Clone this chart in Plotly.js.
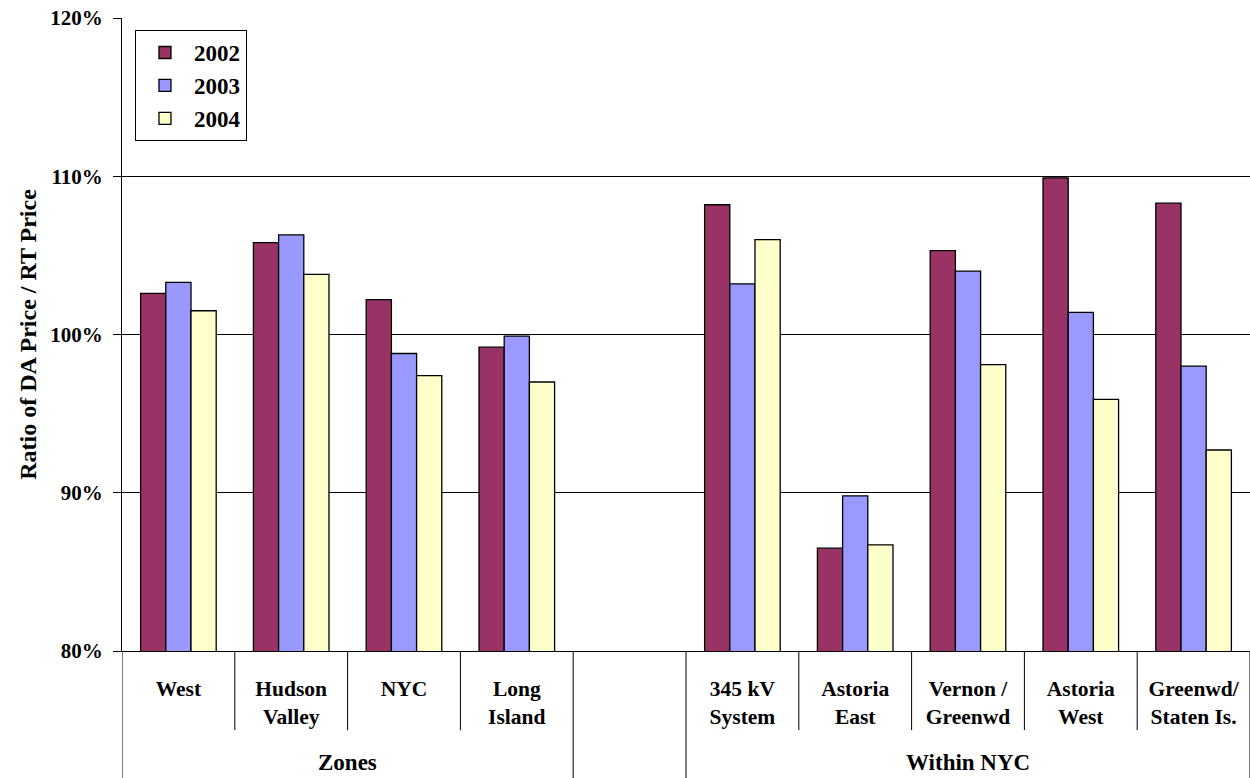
<!DOCTYPE html>
<html>
<head>
<meta charset="utf-8">
<script src="https://cdn.plot.ly/plotly-3.0.1.min.js"></script>
<style>html,body{margin:0;padding:0;background:#fff;overflow:hidden;}</style>
</head>
<body>
<div id="chart" style="width:1250px;height:778px;"></div>
<script>
// Categories (the blank slot separates the two groups)
const categories = ["West", "Hudson<br>Valley", "NYC", "Long<br>Island", " ",
  "345 kV<br>System", "Astoria<br>East", "Vernon /<br>Greenwd", "Astoria<br>West", "Greenwd/<br>Staten Is."];
const groupNames = ["Zones", "Within NYC"];
const groupSpans = [[0, 3], [5, 9]];   // category index ranges of each group

// Ratio of DA price / RT price (%)
const y2002 = [102.6, 105.8, 102.2, 99.2, null, 108.2, 86.5, 105.3, 109.9, 108.3];
const y2003 = [103.3, 106.3, 98.8, 99.9, null, 103.2, 89.8, 104.0, 101.4, 98.0];
const y2004 = [101.5, 103.8, 97.4, 97.0, null, 106.0, 86.7, 98.1, 95.9, 92.7];
const seriesNames = ["2002", "2003", "2004"];
const colors = ["#993366", "#9999FF", "#FFFFCC"];

const FAM = "Liberation Serif";
function f(size) { return {family: FAM, size: size, color: "#000", weight: "bold"}; }
const seriesVals = [y2002, y2003, y2004];

const traces = seriesVals.map((v, i) => ({
  type: "bar",
  name: seriesNames[i],
  x: categories,
  y: v,
  marker: {color: colors[i], line: {color: "#000", width: 1.3}}
}));

// separator lines under the axis: short between categories, long at group edges
const shapes = [];
const groupEdges = new Set([0, 4, 5, categories.length]);
for (let i = 0; i <= categories.length; i++) {
  const long = groupEdges.has(i);
  shapes.push({
    type: "line", xref: "x", yref: "paper",
    x0: i - 0.5, x1: i - 0.5, y0: 0, y1: long ? -0.205 : -0.125,
    line: {color: "#000", width: 1}
  });
}
const annotations = groupSpans.map((s, k) => ({
  xref: "x", yref: "paper", x: (s[0] + s[1]) / 2, y: -0.176,
  text: groupNames[k], showarrow: false, yanchor: "middle",
  font: f(23)
}));

const layout = {
  width: 1250, height: 778,
  margin: {l: 122, r: 0, t: 18, b: 127},
  paper_bgcolor: "#fff", plot_bgcolor: "#fff",
  font: f(20),
  barmode: "group", bargap: 0.33, bargroupgap: 0,
  showlegend: true,
  legend: {
    x: 0.0115, y: 0.981, xanchor: "left", yanchor: "top",
    bgcolor: "#fff", bordercolor: "#000", borderwidth: 1,
    font: f(23), itemwidth: 48,
    tracegroupgap: 0
  },
  xaxis: {
    type: "category", range: [-0.5, categories.length - 0.5],
    showline: true, linecolor: "#000", linewidth: 1,
    ticks: "", showgrid: false, ticklabelstandoff: 18,
    tickfont: f(21.5),
    fixedrange: true
  },
  yaxis: {
    range: [80, 120], dtick: 10, tick0: 80, ticksuffix: "%",
    showgrid: true, gridcolor: "#000", gridwidth: 1, zeroline: false,
    showline: true, linecolor: "#000", linewidth: 1,
    ticks: "outside", ticklen: 8, tickcolor: "#000", ticklabelstandoff: 6,
    tickfont: f(21),
    title: {text: "Ratio of DA Price / RT Price", font: f(24), standoff: 6},
    fixedrange: true
  },
  shapes: shapes,
  annotations: annotations
};

Plotly.newPlot("chart", traces, layout, {displayModeBar: false});
</script>
</body>
</html>
